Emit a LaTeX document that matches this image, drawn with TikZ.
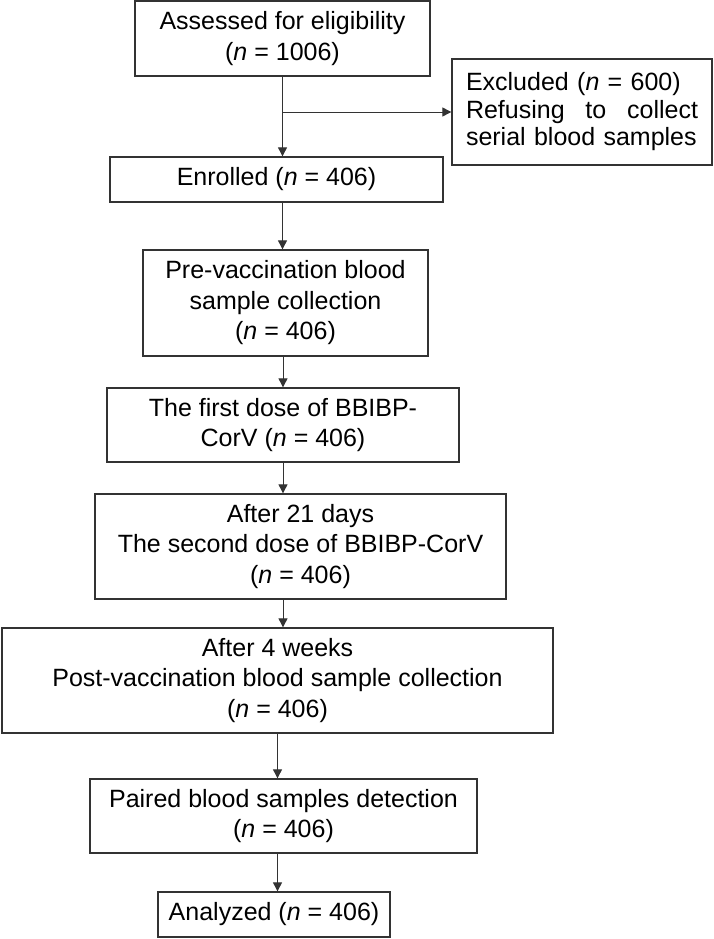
\documentclass[tikz,border=0pt]{standalone}
\usepackage{fontspec}
\setmainfont{Liberation Sans}
\usepackage{tikz}
\usetikzlibrary{arrows.meta}
\newcommand{\nn}{\textit{n}}
\tikzset{flowbox/.style={draw=black!80, line width=1.3pt, inner sep=0pt, align=center,
                         font=\fontsize{25}{30.5}\selectfont},
         flowarrow/.style={draw=black!80, line width=0.9pt, -{Triangle[length=9pt,width=9pt]}}}

\begin{document}
\begin{tikzpicture}[x=1pt, y=-1pt]
	\useasboundingbox (0,0) rectangle (714,939);

	\node[flowbox, minimum width=295pt, minimum height=75pt] (assess) at (282.5,38.5)
		{Assessed for eligibility\\(\nn{} = 1006)};
	\node[flowbox, minimum width=260pt, minimum height=106pt, text width=232pt, align=left,
	      font=\fontsize{25}{27.5}\selectfont] (excl) at (582,112)
		{Excluded (\nn{} = 600)\\Refusing\hfill to\hfill collect\\serial blood samples};
	\node[flowbox, minimum width=333pt, minimum height=45pt] (enrol) at (276.5,179.5)
		{Enrolled (\nn{} = 406)};
	\node[flowbox, minimum width=285pt, minimum height=106pt] (prevac) at (285.5,303)
		{Pre-vaccination blood\\sample collection\\(\nn{} = 406)};
	\node[flowbox, minimum width=352pt, minimum height=74pt] (dose1) at (283,425)
		{The first dose of BBIBP-\\CorV (\nn{} = 406)};
	\node[flowbox, minimum width=411pt, minimum height=105pt] (dose2) at (300.5,546.5)
		{After 21 days\\The second dose of BBIBP-CorV\\(\nn{} = 406)};
	\node[flowbox, minimum width=551pt, minimum height=105pt] (post) at (277.5,680.5)
		{After 4 weeks\\Post-vaccination blood sample collection\\(\nn{} = 406)};
	\node[flowbox, minimum width=387pt, minimum height=74pt] (paired) at (283.5,816)
		{Paired blood samples detection\\(\nn{} = 406)};
	\node[flowbox, minimum width=232pt, minimum height=45pt] (analyzed) at (274,914.5)
		{Analyzed (\nn{} = 406)};

	% connectors
	\draw[flowarrow] (assess.south) -- (assess.south |- enrol.north);
	\draw[flowarrow] (assess.south |- excl.west) -- (excl.west);
	\draw[flowarrow] (assess.south |- enrol.south) -- (assess.south |- prevac.north);
	\draw[flowarrow] (dose1.north |- prevac.south) -- (dose1.north);
	\draw[flowarrow] (dose1.south) -- (dose1.south |- dose2.north);
	\draw[flowarrow] (dose1.south |- dose2.south) -- (dose1.south |- post.north);
	\draw[flowarrow] (post.south) -- (post.south |- paired.north);
	\draw[flowarrow] (post.south |- paired.south) -- (post.south |- analyzed.north);
\end{tikzpicture}
\end{document}
